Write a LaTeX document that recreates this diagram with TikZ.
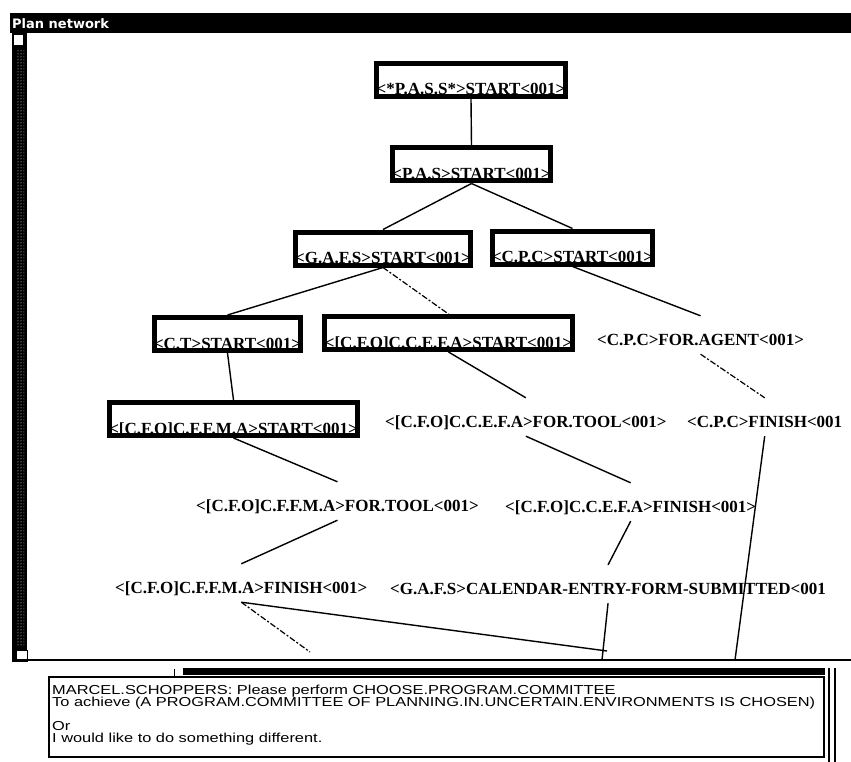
\documentclass[tikz,border=0pt]{standalone}
\usepackage{fontspec}
\setmainfont{Liberation Serif}
\newfontfamily\barfont{DejaVu Sans}
\newfontfamily\promptfont[FakeStretch=1.26]{Liberation Sans}
\usetikzlibrary{patterns}

\begin{document}
\begin{tikzpicture}[x=1pt, y=-1pt,
  goal/.style={draw, line width=5pt, inner xsep=0pt, inner ysep=1.5pt,
    text height=30pt, text depth=0pt, font=\fontsize{17}{17}\selectfont\bfseries},
  act/.style={inner sep=0pt, text height=29pt, text depth=9pt, anchor=base west,
    font=\fontsize{17}{17}\selectfont\bfseries},
  link/.style={line width=1.4pt},
  faint/.style={line width=1.2pt, dash pattern=on 6pt off 2pt on 2pt off 2pt},
  msg/.style={anchor=base west, inner sep=0pt, font=\promptfont\fontsize{13}{13}\selectfont}]
  \useasboundingbox (0,0) rectangle (851,762);
  % window frame
  \fill (10,13) rectangle (851,33);
  \node[anchor=base west, inner sep=0pt, text=white,
    font=\barfont\bfseries\fontsize{13}{13}\selectfont] (title) at (12,29) {Plan network};
  \fill (12,33) rectangle (27,662);
  \fill[pattern=dots, pattern color=white] (16,50) rectangle (24,646);
  \filldraw[fill=white, line width=1pt] (13,35) rectangle (23,46);
  \filldraw[fill=white, line width=1pt] (16,650) rectangle (27,661);
  \draw[line width=2.5pt] (12,660) -- (851,660);

  % goals (boxed)
  \node[goal] (pass) at (471,80) {<*P.A.S.S*>START<001>};
  \node[goal] (pas) at (471.5,164.5) {<P.A.S>START<001>};
  \node[goal] (gafs) at (383,248.5) {<G.A.F.S>START<001>};
  \node[goal] (cpc) at (572.5,247.5) {<C.P.C>START<001>};
  \node[goal] (ct) at (227.5,334) {<C.T>START<001>};
  \node[goal] (ccefa) at (448.5,333) {<[C.F.O]C.C.E.F.A>START<001>};
  \node[goal] (cffma) at (233.5,419) {<[C.F.O]C.F.F.M.A>START<001>};

  % actions (plain)
  \node[act] (agent) at (597,345) {<C.P.C>FOR.AGENT<001>};
  \node[act] (ceTool) at (385,427) {<[C.F.O]C.C.E.F.A>FOR.TOOL<001>};
  \node[act] (cpcFin) at (687,427) {<C.P.C>FINISH<001};
  \node[act] (cfTool) at (196,511) {<[C.F.O]C.F.F.M.A>FOR.TOOL<001>};
  \node[act] (ceFin) at (505,512) {<[C.F.O]C.C.E.F.A>FINISH<001>};
  \node[act] (cfFin) at (115,593) {<[C.F.O]C.F.F.M.A>FINISH<001>};
  \node[act] (entry) at (390,594) {<G.A.F.S>CALENDAR-ENTRY-FORM-SUBMITTED<001};

  % ends cut off by the window
  \coordinate (cutA) at (310,652);
  \coordinate (cutB) at (607,651);
  \coordinate (cutC) at (602,660);
  \coordinate (cutD) at (735,660);

  % links
  \draw[link] (pass.south) -- (pas.north);
  \draw[link] (pas.south) -- (gafs.north);
  \draw[link] (pas.south) -- (cpc.north);
  \draw[link] (gafs.south) -- (ct.north);
  \draw[faint] (gafs.south) -- (ccefa.north);
  \draw[link] (cpc.south) -- (agent.north);
  \draw[link] (ct.south) -- (cffma.north);
  \draw[link] (ccefa.south) -- (ceTool.north);
  \draw[faint] (agent.south) -- (cpcFin.north);
  \draw[link] (cffma.south) -- (cfTool.north);
  \draw[link] (ceTool.south) -- (ceFin.north);
  \draw[link] (cfTool.south) -- (cfFin.north);
  \draw[link] (ceFin.south) -- (entry.north);
  \draw[link] (cpcFin.south) -- (cutD);
  \draw[link] (entry.south) -- (cutC);
  \draw[link] (cfFin.south) -- (cutB);
  \draw[faint] (cfFin.south) -- (cutA);

  % prompt window
  \fill (183,668) rectangle (825,675);
  \draw[line width=1.2pt] (49,677) rectangle (824,757);
  \draw[line width=1pt] (174,669) -- (174,678);
  \draw[line width=2.5pt] (829,668) -- (829,762);
  \draw[line width=2.5pt] (835,668) -- (835,762);
  \node[msg] (m1) at (52,694) {MARCEL.SCHOPPERS: Please perform CHOOSE.PROGRAM.COMMITTEE};
  \node[msg] (m2) at (52,706) {To achieve (A PROGRAM.COMMITTEE OF PLANNING.IN.UNCERTAIN.ENVIRONMENTS IS CHOSEN)};
  \node[msg] (m3) at (52,730) {Or};
  \node[msg] (m4) at (52,742) {I would like to do something different.};
\end{tikzpicture}
\end{document}
